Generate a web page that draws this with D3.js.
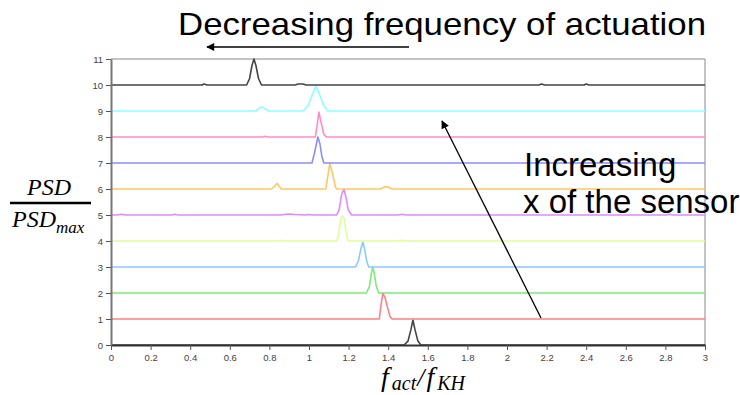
<!DOCTYPE html>
<html><head><meta charset="utf-8">
<script src="https://cdn.jsdelivr.net/npm/d3@7"></script>
<style>html,body{margin:0;padding:0;background:#fff;}svg{display:block;}</style>
</head><body>
<svg id="chart" width="740" height="395"></svg>
<script>
// ---- data: each series is a list of [f_act/f_KH, PSD/PSDmax] points, drawn on its own baseline ----
const baselines = [0,1,2,3,4,5,6,7,8,9,10];
const series0  = [[0,0],[1.48,0],[1.50,0.15],[1.515,0.6],[1.525,0.96],[1.535,0.6],[1.55,0.15],[1.565,0],[3,0]];
const series1  = [[0,0],[1.355,0],[1.363,0.5],[1.373,1.0],[1.385,0.8],[1.398,0.4],[1.41,0.08],[1.42,0],[3,0]];
const series2  = [[0,0],[1.29,0],[1.305,0.25],[1.315,0.75],[1.322,1.0],[1.33,0.75],[1.34,0.25],[1.352,0],[3,0]];
const series3  = [[0,0],[1.235,0],[1.25,0.25],[1.262,0.7],[1.272,0.96],[1.282,0.65],[1.292,0.2],[1.302,0],[3,0]];
const series4  = [[0,0],[0.84,0],[0.86,0.03],[0.88,0],[1.14,0],[1.15,0.3],[1.162,0.9],[1.17,0.96],[1.178,0.85],[1.188,0.3],[1.198,0],[1.44,0],[1.47,0.03],[1.50,0],[3,0]];
const series5  = [[0,0],[0.03,0],[0.05,0.03],[0.08,0],[0.31,0],[0.32,0.03],[0.34,0],[0.86,0],[0.88,0.03],[0.90,0.04],[0.93,0.02],[0.98,0],[1.0,0.02],[1.02,0],[1.14,0],[1.152,0.2],[1.165,0.8],[1.176,1.0],[1.186,0.7],[1.198,0.2],[1.215,0],[1.45,0],[1.47,0.03],[1.49,0],[2.8,0],[2.82,0.03],[2.84,0],[3,0]];
const series6  = [[0,0],[0.81,0],[0.825,0.1],[0.838,0.22],[0.85,0.1],[0.86,0],[1.085,0],[1.093,0.4],[1.105,1.0],[1.12,0.55],[1.135,0.05],[1.14,0],[1.36,0],[1.38,0.08],[1.40,0.08],[1.42,0],[3,0]];
const series7  = [[0,0],[1.015,0],[1.028,0.4],[1.045,1.0],[1.055,0.75],[1.065,0.25],[1.075,0],[3,0]];
const series8  = [[0,0],[0.765,0],[0.777,0.03],[0.79,0],[1.032,0],[1.042,0.5],[1.05,0.96],[1.06,0.6],[1.075,0.1],[1.088,0],[3,0]];
const series9  = [[0,0],[0.73,0],[0.75,0.12],[0.765,0.15],[0.78,0.08],[0.80,0],[0.97,0],[0.995,0.2],[1.015,0.6],[1.035,0.96],[1.055,0.6],[1.075,0.2],[1.095,0],[3,0]];
const series10 = [[0,0],[0.46,0],[0.47,0.04],[0.485,0],[0.685,0],[0.70,0.25],[0.712,0.75],[0.722,1.0],[0.732,0.75],[0.745,0.25],[0.76,0],[0.93,0],[0.945,0.04],[0.97,0.04],[0.985,0],[2.16,0],[2.175,0.04],[2.19,0],[2.39,0],[2.40,0.04],[2.415,0],[3,0]];
const allSeries = [series0,series1,series2,series3,series4,series5,series6,series7,series8,series9,series10];
const xTicks = [0,0.2,0.4,0.6,0.8,1,1.2,1.4,1.6,1.8,2,2.2,2.4,2.6,2.8,3];
const yTicks = [0,1,2,3,4,5,6,7,8,9,10,11];
const titleTop = "Decreasing frequency of actuation";
const noteLines = ["Increasing", "x of the sensor"];

// ---- styles ----
const colors = ["#444","#ff8080","#7fe87f","#8cc8ff","#ddff99","#dd8cff","#ffc866","#8c8cff","#ff8cc8","#8cffff","#444"];

const svg = d3.select("#chart");
const x = d3.scaleLinear().domain([0,3]).range([111,705]);
const y = d3.scaleLinear().domain([0,11]).range([345,59]);

svg.append("defs").append("marker")
  .attr("id","ah").attr("viewBox","0 0 10 10").attr("refX",9).attr("refY",5)
  .attr("markerWidth",10).attr("markerHeight",8).attr("markerUnits","userSpaceOnUse").attr("orient","auto")
  .append("path").attr("d","M0,0L10,5L0,10z").attr("fill","#000");

// frame
svg.append("line").attr("x1",x(0)).attr("x2",x(3)).attr("y1",y(11)).attr("y2",y(11)).attr("stroke","#888").attr("stroke-width",1);
svg.append("line").attr("x1",x(3)).attr("x2",x(3)).attr("y1",y(11)).attr("y2",y(0)).attr("stroke","#888").attr("stroke-width",1);

// series
const line = d3.line();
allSeries.forEach((pts,i)=>{
  svg.append("path")
    .attr("d", line(pts.map(p=>[x(p[0]), y(baselines[i]+p[1])])))
    .attr("fill","none").attr("stroke",colors[i]).attr("stroke-width",1.6).attr("stroke-linejoin","round");
});

// axes
const xAxis = d3.axisBottom(x).tickValues(xTicks).tickSize(5).tickSizeOuter(0).tickFormat(d=>String(+d.toFixed(1)));
const gx = svg.append("g").attr("transform",`translate(0,${y(0)})`).call(xAxis);
gx.select(".domain").attr("stroke","#333").attr("stroke-width",2);
gx.selectAll(".tick line").attr("stroke","#555");
gx.selectAll(".tick text").attr("fill","#4a4040").style("font-family","Liberation Sans, Arial, sans-serif").style("font-size","9.5px").attr("dy","0.8em");

const yAxis = d3.axisLeft(y).tickValues(yTicks).tickSize(5).tickSizeOuter(0).tickFormat(d3.format("d"));
const gy = svg.append("g").attr("transform",`translate(${x(0)},0)`).call(yAxis);
gy.select(".domain").attr("stroke","#777").attr("stroke-width",2);
gy.selectAll(".tick line").attr("stroke","#555");
gy.selectAll(".tick text").attr("fill","#4a4040").style("font-family","Liberation Sans, Arial, sans-serif").style("font-size","9.5px");

// top title + arrow
svg.append("text").attr("x",178).attr("y",35).text(titleTop)
  .attr("textLength",528).attr("lengthAdjust","spacingAndGlyphs")
  .style("font-family","Liberation Sans, Arial, sans-serif").style("font-size","32px").attr("fill","#000");
svg.append("line").attr("x1",409).attr("y1",47).attr("x2",207).attr("y2",47)
  .attr("stroke","#000").attr("stroke-width",1.5).attr("marker-end","url(#ah)");

// right note + arrow
const note = svg.append("text").style("font-family","Liberation Sans, Arial, sans-serif").style("font-size","33px").attr("fill","#000");
note.append("tspan").attr("x",524).attr("y",176).text(noteLines[0]);
note.append("tspan").attr("x",523).attr("y",213).text(noteLines[1]);
svg.append("line").attr("x1",541).attr("y1",318).attr("x2",442).attr("y2",121)
  .attr("stroke","#000").attr("stroke-width",1.3).attr("marker-end","url(#ah)");

// y label: PSD / PSD_max
const serif = "Liberation Serif, 'DejaVu Serif', serif";
svg.append("text").attr("x",49).attr("y",195).attr("text-anchor","middle")
  .style("font-family",serif).style("font-style","italic").style("font-size","24px").text("PSD");
svg.append("line").attr("x1",10).attr("x2",91).attr("y1",203).attr("y2",203).attr("stroke","#000").attr("stroke-width",2.5);
const den = svg.append("text").attr("x",12).attr("y",227)
  .style("font-family",serif).style("font-style","italic").style("font-size","24px");
den.append("tspan").text("PSD");
den.append("tspan").attr("dy",6).style("font-size","17px").text("max");

// x label: f_act / f_KH
const xl = svg.append("text").attr("x",381).attr("y",386)
  .style("font-family",serif).style("font-style","italic").style("font-size","28px");
xl.append("tspan").text("f");
xl.append("tspan").attr("dx",3).attr("dy",4).style("font-size","20px").text("act");
xl.append("tspan").attr("dx",1).attr("dy",-4).style("font-size","26px").text("/");
xl.append("tspan").attr("dx",2).text("f");
xl.append("tspan").attr("dx",3).attr("dy",4).style("font-size","20px").text("KH");
</script>
</body></html>
